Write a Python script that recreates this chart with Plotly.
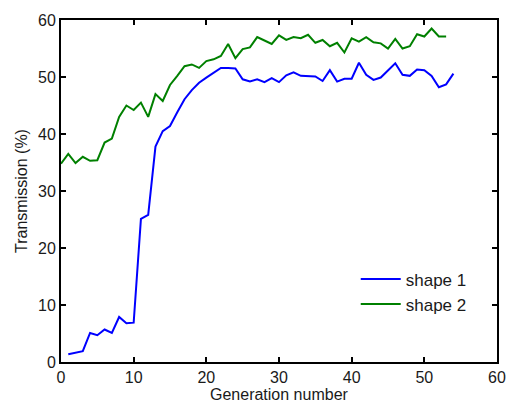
import plotly.graph_objects as go

gen_blue = list(range(1, 55))
shape1 = [1.35, 1.6, 1.9, 5.1, 4.7, 5.7, 5.1, 7.9, 6.8, 6.9,
          25.1, 25.8, 37.8, 40.5, 41.4, 43.8, 46.1, 47.7, 49.0, 49.9,
          50.8, 51.6, 51.6, 51.5, 49.6, 49.2, 49.6, 49.1, 49.8, 49.1,
          50.3, 50.8, 50.2, 50.1, 50.1, 49.3, 51.2, 49.2, 49.7, 49.7,
          52.5, 50.4, 49.5, 49.9, 51.1, 52.4, 50.4, 50.2, 51.3, 51.2,
          50.2, 48.2, 48.7, 50.6]

gen_green = list(range(0, 54))
shape2 = [34.8, 36.5, 34.9, 36.0, 35.3, 35.4, 38.5, 39.2, 43.0, 45.0,
          44.2, 45.5, 43.0, 47.0, 45.8, 48.6, 50.2, 51.9, 52.2, 51.6,
          52.8, 53.1, 53.7, 55.8, 53.3, 54.9, 55.2, 57.0, 56.4, 55.8,
          57.3, 56.5, 57.0, 56.8, 57.4, 56.0, 56.5, 55.4, 56.0, 54.3,
          56.8, 56.2, 57.0, 56.1, 55.9, 55.0, 56.7, 55.0, 55.4, 57.5,
          57.1, 58.5, 57.1, 57.1]

x_ticks = [0, 10, 20, 30, 40, 50, 60]
y_ticks = [0, 10, 20, 30, 40, 50, 60]

FONT = "Liberation Sans, Arial"

fig = go.Figure()
fig.add_trace(go.Scatter(x=gen_blue, y=shape1, mode="lines", name="shape 1",
                         line=dict(color="#0000FF", width=2)))
fig.add_trace(go.Scatter(x=gen_green, y=shape2, mode="lines", name="shape 2",
                         line=dict(color="#008000", width=2)))

axis_common = dict(showgrid=False, zeroline=False, showline=True, linecolor="black",
                   linewidth=2, mirror="ticks", ticks="inside", ticklen=5,
                   tickwidth=1.5, tickcolor="black", automargin=False,
                   tickfont=dict(family=FONT, size=16, color="#1a1a1a"))

fig.update_layout(
    width=506, height=404,
    margin=dict(l=61, r=9, t=20, b=42),
    paper_bgcolor="white", plot_bgcolor="white",
    xaxis=dict(range=[0, 60], tickvals=x_ticks, **axis_common),
    yaxis=dict(range=[0, 60], tickvals=y_ticks,
               title=dict(text="Transmission (%)", standoff=6,
                          font=dict(family=FONT, size=16, color="#1a1a1a")),
               **axis_common),
    legend=dict(x=0.676, y=0.294, xanchor="left", yanchor="top",
                bgcolor="rgba(0,0,0,0)", borderwidth=0, itemwidth=40,
                font=dict(family=FONT, size=17, color="#1a1a1a"),
                tracegroupgap=0),
    showlegend=True,
    annotations=[dict(text="Generation number", xref="paper", yref="paper",
                      x=0.5, y=-0.096, xanchor="center", yanchor="middle",
                      showarrow=False,
                      font=dict(family=FONT, size=16, color="#1a1a1a"))],
)

fig.write_html("out.html")
